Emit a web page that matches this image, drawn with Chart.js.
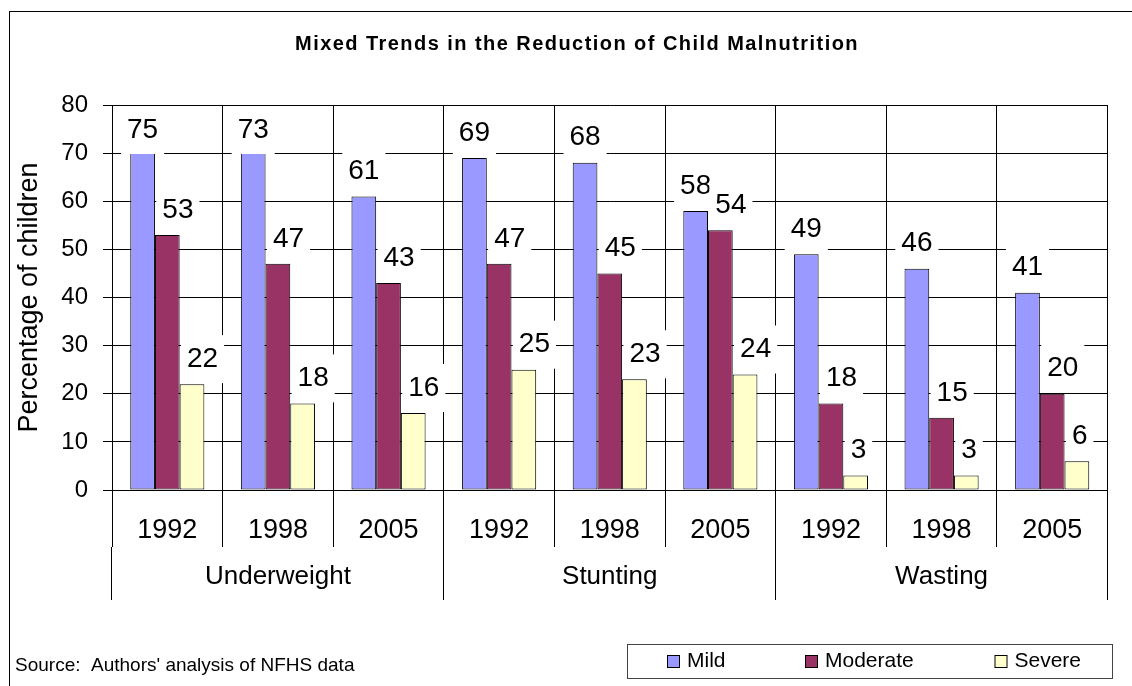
<!DOCTYPE html>
<html>
<head>
<meta charset="utf-8">
<title>Mixed Trends in the Reduction of Child Malnutrition</title>
<script src="https://cdn.jsdelivr.net/npm/chart.js@4.4.1/dist/chart.umd.min.js"></script>
<style>
  html, body { margin: 0; padding: 0; background: #fff; }
  canvas { display: block; }
</style>
</head>
<body>
<canvas id="chart" width="1132" height="686"></canvas>
<script>
// ---- data ----
const years = ['1992', '1998', '2005', '1992', '1998', '2005', '1992', '1998', '2005'];
const indicators = ['Underweight', 'Stunting', 'Wasting'];
const seriesNames = ['Mild', 'Moderate', 'Severe'];
const mild = [75, 73, 61, 69, 68, 58, 49, 46, 41];
const moderate = [53, 47, 43, 47, 45, 54, 18, 15, 20];
const severe = [22, 18, 16, 25, 23, 24, 3, 3, 6];
const yMin = 0;
const yMax = 80;
const yStep = 10;
const chartTitle = 'Mixed Trends in the Reduction of Child Malnutrition';
const yTitle = 'Percentage of children';
const sourceNote = "Source:  Authors' analysis of NFHS data";

// ---- styling ----
const FONT = '"Liberation Sans", Arial, Helvetica, sans-serif';
const seriesColors = ['#9999FF', '#993366', '#FFFFCC'];

const datasets = [mild, moderate, severe].map((values, i) => ({
  label: seriesNames[i],
  data: values,
  backgroundColor: seriesColors[i],
  borderColor: '#000',
  borderWidth: 1,
  borderSkipped: false,
  categoryPercentage: 0.67,
  barPercentage: 1.0
}));

// Value labels sit in white boxes above each bar; frame, title, legend and source note
const decorations = {
  id: 'decorations',
  beforeDraw(chart) {
    const ctx = chart.ctx;
    ctx.save();
    ctx.fillStyle = '#fff';
    ctx.fillRect(0, 0, chart.width, chart.height);
    ctx.restore();
  },
  afterDatasetsDraw(chart) {
    const ctx = chart.ctx;
    const area = chart.chartArea;
    ctx.save();
    ctx.font = '28px ' + FONT;
    ctx.textBaseline = 'middle';
    ctx.textAlign = 'left';
    chart.data.datasets.forEach((ds, di) => {
      const meta = chart.getDatasetMeta(di);
      meta.data.forEach((bar, i) => {
        const txt = String(ds.data[i]);
        const w = ctx.measureText(txt).width;
        const left = di === 0 ? bar.x - w / 2 : bar.x - 5;
        const cy = Math.max(bar.y - 25, area.top + 25);
        ctx.fillStyle = '#fff';
        ctx.fillRect(left - 6, cy - 24, w + 12, 48);
        ctx.fillStyle = '#000';
        ctx.fillText(txt, left, cy);
      });
    });
    ctx.restore();
  },
  afterDraw(chart) {
    const ctx = chart.ctx;
    ctx.save();
    // outer frame
    ctx.strokeStyle = '#000';
    ctx.lineWidth = 1;
    ctx.strokeRect(9.5, 11.5, 1140, 700);

    // title
    ctx.fillStyle = '#000';
    ctx.font = 'bold 20px ' + FONT;
    ctx.letterSpacing = '1.45px';
    ctx.textAlign = 'center';
    ctx.textBaseline = 'middle';
    ctx.fillText(chartTitle, 577, 44);

    // source note
    ctx.letterSpacing = '0px';
    ctx.font = '19px ' + FONT;
    ctx.textAlign = 'left';
    ctx.fillText(sourceNote, 15, 666);

    // legend
    ctx.strokeStyle = '#444';
    ctx.strokeRect(627.5, 644.5, 485, 34);
    const swatchX = [667, 805, 994.5];
    ctx.font = '21px ' + FONT;
    chart.data.datasets.forEach((ds, i) => {
      ctx.fillStyle = ds.backgroundColor;
      ctx.fillRect(swatchX[i] + 0.5, 655.5, 12, 12);
      ctx.strokeStyle = '#000';
      ctx.strokeRect(swatchX[i] + 0.5, 655.5, 12, 12);
      ctx.fillStyle = '#000';
      ctx.fillText(ds.label, swatchX[i] + 20, 661);
    });
    ctx.restore();
  }
};

new Chart(document.getElementById('chart'), {
  type: 'bar',
  data: { labels: years, datasets: datasets },
  options: {
    responsive: false,
    animation: false,
    devicePixelRatio: 1,
    layout: { padding: { left: 0, top: 105, right: 24.5, bottom: 86 } },
    plugins: {
      legend: { display: false },
      title: { display: false },
      tooltip: { enabled: false }
    },
    scales: {
      x: {
        type: 'category',
        position: 'bottom',
        weight: 0,
        offset: true,
        grid: { offset: true, color: '#000', lineWidth: 1, drawTicks: true, tickLength: 57, tickColor: '#000' },
        border: { display: true, color: '#000' },
        ticks: { font: { family: FONT, size: 27 }, color: '#000', padding: -32.7, maxRotation: 0, autoSkip: false },
        afterFit(scale) { scale.height = 57; }
      },
      group: {
        type: 'category',
        position: 'bottom',
        weight: 1,
        labels: indicators,
        offset: true,
        grid: { offset: true, drawOnChartArea: false, drawTicks: true, tickLength: 53, color: '#000', tickColor: '#000' },
        border: { display: false },
        ticks: { font: { family: FONT, size: 26 }, color: '#000', padding: -38.6, maxRotation: 0, autoSkip: false },
        afterFit(scale) { scale.height = 53; }
      },
      y: {
        min: yMin,
        max: yMax,
        ticks: { stepSize: yStep, font: { family: FONT, size: 24 }, color: '#000', padding: 15 },
        grid: { color: '#000', lineWidth: 1, tickLength: 9, tickColor: '#000' },
        border: { display: true, color: '#000' },
        title: {
          display: true,
          text: yTitle,
          font: { family: FONT, size: 27 },
          color: '#000',
          padding: { top: 13, bottom: 0 }
        },
        afterFit(scale) { scale.width = 112; }
      }
    }
  },
  plugins: [decorations]
});
</script>
</body>
</html>
